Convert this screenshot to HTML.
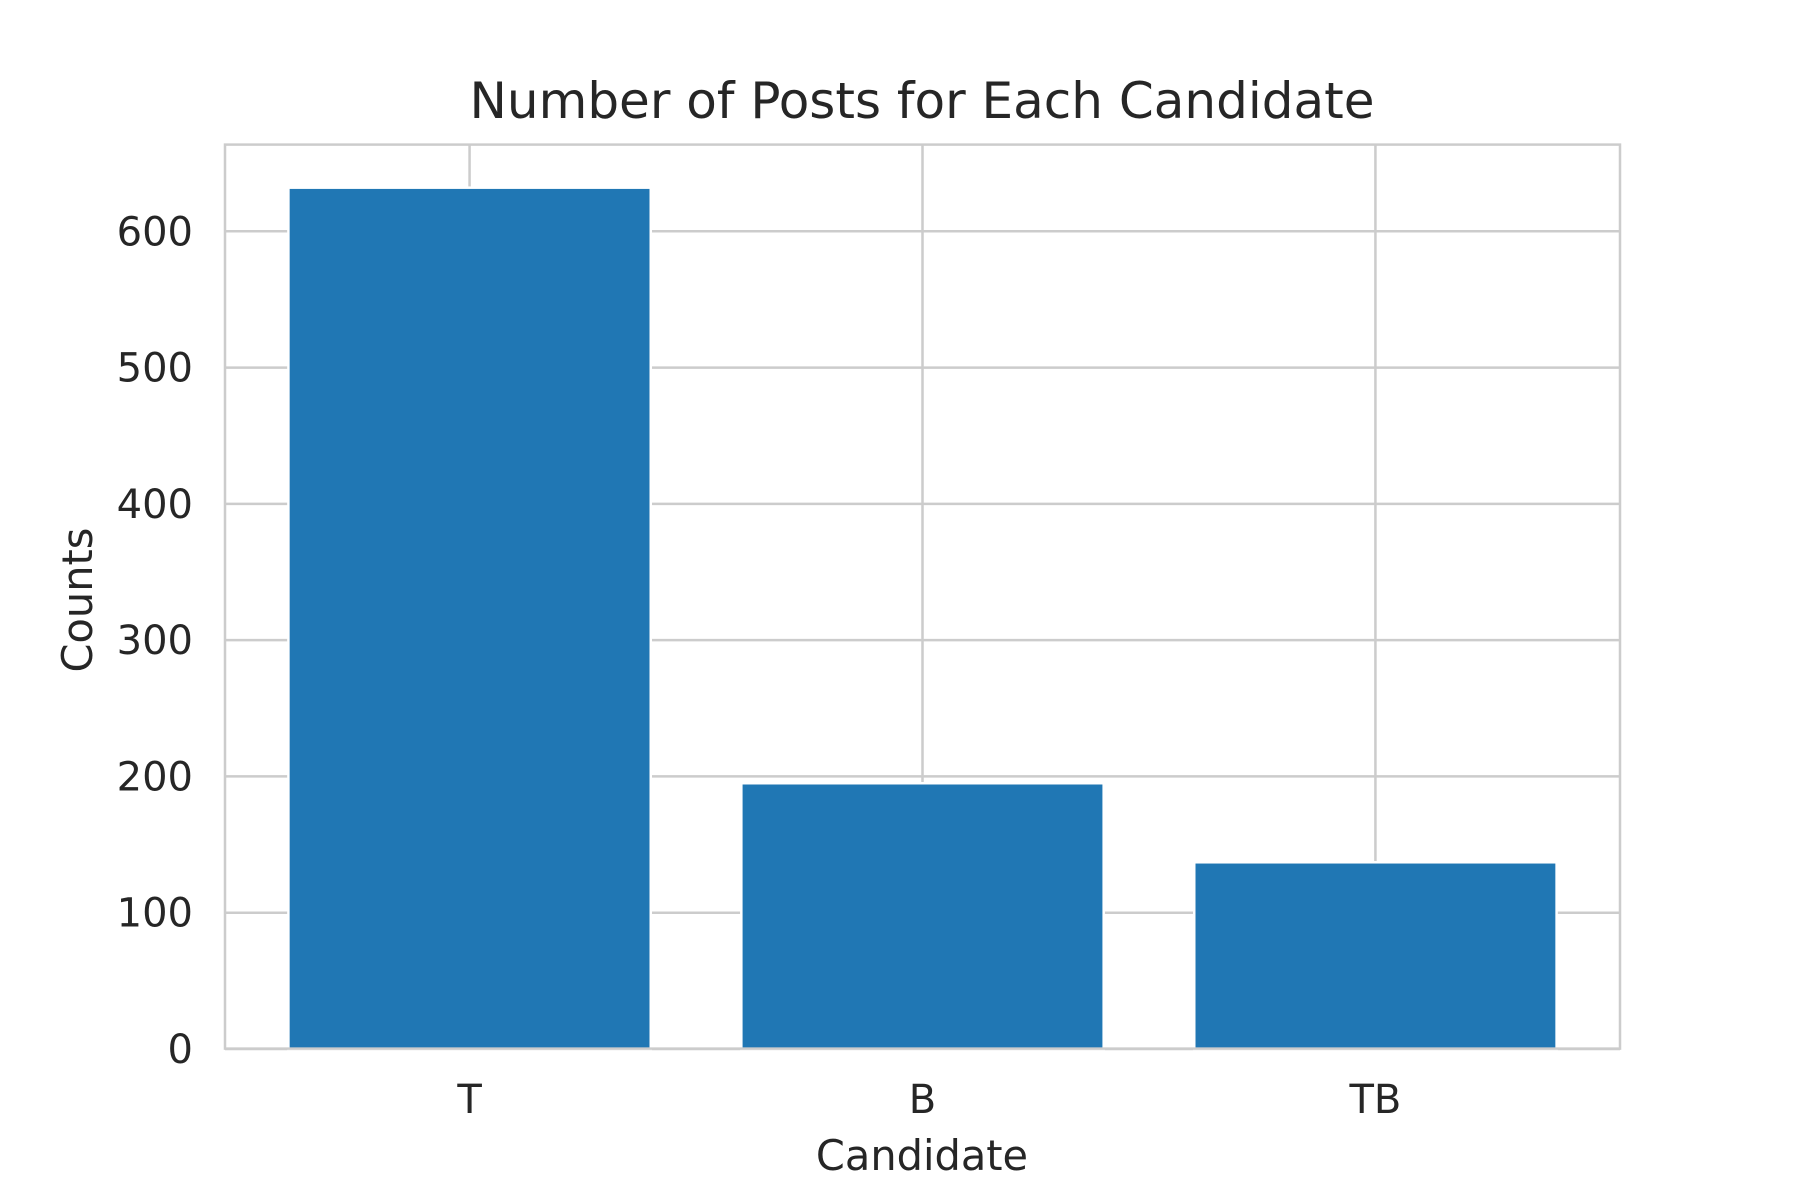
<!DOCTYPE html>
<html><head><meta charset="utf-8"><style>
html,body{margin:0;padding:0;background:#fff;}
svg{display:block;font-family:"DejaVu Sans","Liberation Sans",sans-serif;}
</style></head><body>
<svg id="chart" width="1800" height="1200" viewBox="0 0 1800 1200">
<rect width="1800" height="1200" fill="#fff"/>
<text x="922" y="118" text-anchor="middle" font-size="50" fill="#262626">Number of Posts for Each Candidate</text>
<g id="grid"></g>
<g id="bars"></g>
<rect x="225" y="144.6" width="1395" height="904" fill="none" stroke="#cccccc" stroke-width="2.5"/>
<g id="ticks"></g>
<text x="922" y="1170" text-anchor="middle" font-size="41.5" fill="#262626">Candidate</text>
<text transform="translate(92,600) rotate(-90)" text-anchor="middle" font-size="41.5" fill="#262626">Counts</text>
</svg>
<script>
const categories = ["T", "B", "TB"];
const counts = [632, 195, 137];
const yTicks = [0, 100, 200, 300, 400, 500, 600];

const NS = "http://www.w3.org/2000/svg";
const L = 225, R = 1620, T = 144.6, B = 1049;
const xMin = -0.54, xMax = categories.length - 1 + 0.54;
const yMax = Math.max(...counts) * 1.05;
function xs(i){ return L + (i - xMin) / (xMax - xMin) * (R - L); }
function ys(v){ return B - v / yMax * (B - T); }
function mk(tag, attrs, parent){ const e = document.createElementNS(NS, tag); for (const k in attrs) e.setAttribute(k, attrs[k]); parent.appendChild(e); return e; }
const grid = document.getElementById('grid'), bars = document.getElementById('bars'), ticks = document.getElementById('ticks');
yTicks.forEach(v => {
  const g = mk('line', {x1:L, x2:R, y1:ys(v), y2:ys(v), stroke:'#cccccc', 'stroke-width':2.5}, grid);
  
  
  const t = mk('text', {x:193, y:ys(v)+14, 'text-anchor':'end', 'font-size':40, fill:'#262626'}, ticks);
  t.textContent = v;
  
  
});
categories.forEach((c, i) => {
  const g = mk('line', {x1:xs(i), x2:xs(i), y1:T, y2:B, stroke:'#cccccc', 'stroke-width':2.5}, grid);
  
  
  const w = 0.8 * (xs(1) - xs(0));
  const r = mk('rect', {x:xs(i)-w/2, y:ys(counts[i]), width:w, height:ys(0)-ys(counts[i]), fill:'#2077b4', stroke:'#ffffff', 'stroke-width':2.5}, bars);
  
  
  const t = mk('text', {x:xs(i), y:1113, 'text-anchor':'middle', 'font-size':40, fill:'#262626'}, ticks);
  t.textContent = c;
  
  
});
</script>
</body></html>
